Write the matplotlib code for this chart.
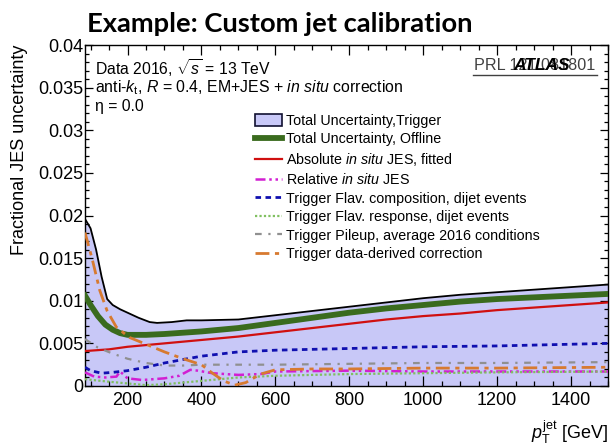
import numpy as np
import matplotlib
matplotlib.use("Agg")
import matplotlib.pyplot as plt
from matplotlib.lines import Line2D
from matplotlib.patches import Patch
from matplotlib.ticker import MultipleLocator, FuncFormatter

plt.rcParams['font.family'] = ['Liberation Sans', 'DejaVu Sans']
plt.rcParams['mathtext.fontset'] = 'custom'
plt.rcParams['mathtext.rm'] = 'Liberation Sans'
plt.rcParams['mathtext.it'] = 'Liberation Sans:italic'
plt.rcParams['mathtext.bf'] = 'Liberation Sans:bold'

# ---- data ----
total_trig_x = [85, 100, 115, 130, 145, 160, 180, 200, 230, 260, 280, 320, 360, 400, 500, 600, 700, 800, 900, 1000, 1100, 1200, 1300, 1400, 1500]
total_trig_y = [0.0196, 0.0185, 0.0160, 0.0128, 0.0102, 0.0095, 0.0090, 0.0086, 0.0080, 0.0075, 0.0074, 0.0075, 0.0077, 0.0077, 0.0078, 0.0083, 0.0088, 0.0093, 0.0098, 0.0103, 0.0107, 0.0110, 0.0113, 0.0116, 0.0119]

offline_x = [85, 100, 120, 140, 160, 180, 200, 250, 300, 400, 500, 600, 700, 800, 900, 1000, 1100, 1200, 1300, 1400, 1500]
offline_y = [0.0106, 0.0095, 0.0082, 0.0072, 0.0066, 0.0062, 0.0060, 0.0060, 0.0061, 0.0064, 0.0068, 0.0074, 0.0080, 0.0086, 0.0091, 0.0095, 0.0099, 0.0102, 0.0104, 0.0106, 0.0108]

abs_x = [85, 150, 200, 300, 400, 500, 600, 700, 800, 900, 1000, 1100, 1200, 1300, 1400, 1500]
abs_y = [0.0041, 0.0043, 0.0046, 0.0050, 0.0054, 0.0058, 0.0063, 0.0068, 0.0073, 0.0078, 0.0082, 0.0085, 0.0089, 0.0092, 0.0095, 0.0098]

rel_x = [85, 110, 140, 170, 180, 200, 240, 300, 340, 370, 390, 430, 500, 560, 600, 800, 1000, 1500]
rel_y = [0.0016, 0.0011, 0.0010, 0.0011, 0.0017, 0.0009, 0.0007, 0.0009, 0.0012, 0.0019, 0.0018, 0.0015, 0.0013, 0.0014, 0.0017, 0.0018, 0.0017, 0.0017]

flavcomp_x = [85, 100, 130, 160, 200, 250, 300, 350, 400, 500, 600, 700, 800, 900, 1000, 1200, 1400, 1500]
flavcomp_y = [0.0022, 0.0018, 0.0015, 0.0016, 0.0018, 0.0022, 0.0027, 0.0031, 0.0035, 0.0040, 0.0042, 0.0043, 0.0044, 0.0045, 0.0046, 0.0047, 0.0049, 0.0050]

flavresp_x = [85, 150, 200, 250, 300, 400, 500, 600, 800, 1000, 1200, 1500]
flavresp_y = [0.0008, 0.0005, 0.0003, 0.0001, 0.0002, 0.0006, 0.0010, 0.0012, 0.0014, 0.0015, 0.0016, 0.0017]

pileup_x = [85, 120, 160, 200, 250, 300, 350, 400, 500, 600, 800, 1000, 1200, 1500]
pileup_y = [0.0055, 0.0045, 0.0038, 0.0032, 0.0027, 0.0024, 0.0024, 0.0025, 0.0025, 0.0025, 0.0026, 0.0027, 0.0027, 0.0028]

datader_x = [85, 105, 125, 145, 170, 205, 250, 300, 350, 400, 430, 460, 490, 520, 560, 600, 700, 800, 1000, 1200, 1500]
datader_y = [0.0180, 0.0148, 0.0112, 0.0088, 0.0069, 0.0057, 0.0049, 0.0040, 0.0032, 0.0025, 0.0015, 0.0006, 0.0001, 0.0004, 0.0014, 0.0019, 0.0020, 0.0020, 0.0021, 0.0021, 0.0022]

legend_labels = [
    "Total Uncertainty,Trigger",
    "Total Uncertainty, Offline",
    "Absolute $\\mathit{in\\ situ}$ JES, fitted",
    "Relative $\\mathit{in\\ situ}$ JES",
    "Trigger Flav. composition, dijet events",
    "Trigger Flav. response, dijet events",
    "Trigger Pileup, average 2016 conditions",
    "Trigger data-derived correction",
]

W, H = 610, 447
fig = plt.figure(figsize=(W / 100, H / 100), dpi=100)
ax = fig.add_axes([85 / W, 1 - 386 / H, (608 - 85) / W, (386 - 45) / H])

band_col = '#c8c8f7'
ls_rel = (0, (4, 1.5, 1, 1.5, 1, 1.5))
ls_comp = (0, (2, 1.6))
ls_resp = (0, (1, 1))
ls_pu = (0, (3, 3, 1, 3))
ls_dd = (0, (5, 2, 1.5, 2))

ax.fill_between(total_trig_x, 0, total_trig_y, color=band_col, lw=0, zorder=1)
ax.plot(total_trig_x, total_trig_y, color='black', lw=1.3, zorder=3)
ax.plot(offline_x, offline_y, color='#3a6b1e', lw=4.2, zorder=4)
ax.plot(abs_x, abs_y, color='#d01010', lw=1.6, zorder=5)
ax.plot(rel_x, rel_y, color='#d21fd2', lw=1.8, ls=ls_rel, zorder=5)
ax.plot(flavcomp_x, flavcomp_y, color='#1010b0', lw=2.0, ls=ls_comp, zorder=5)
ax.plot(flavresp_x, flavresp_y, color='#80c060', lw=1.6, ls=ls_resp, zorder=5)
ax.plot(pileup_x, pileup_y, color='#909090', lw=1.6, ls=ls_pu, zorder=5)
ax.plot(datader_x, datader_y, color='#d77a30', lw=2.0, ls=ls_dd, zorder=5)

ax.set_xlim(85, 1500)
ax.set_ylim(0, 0.04)
ax.xaxis.set_major_locator(MultipleLocator(200))
ax.xaxis.set_minor_locator(MultipleLocator(50))
ax.yaxis.set_major_locator(MultipleLocator(0.005))
ax.yaxis.set_minor_locator(MultipleLocator(0.001))
ax.yaxis.set_major_formatter(FuncFormatter(lambda v, p: ('%g' % round(v, 4))))
ax.tick_params(which='both', direction='in', top=True, right=True, labelsize=13, width=0.9)
ax.tick_params(axis='y', which='major', length=6, pad=1)
ax.tick_params(axis='y', which='minor', length=3.2)
ax.tick_params(axis='x', which='major', length=7, pad=4)
ax.tick_params(axis='x', which='minor', length=3.5)
for s in ax.spines.values():
    s.set_linewidth(1.0)

handles = [
    Patch(facecolor=band_col, edgecolor='#101030', linewidth=1.2),
    Line2D([], [], color='#3a6b1e', lw=4.2),
    Line2D([], [], color='#d01010', lw=1.6),
    Line2D([], [], color='#d21fd2', lw=1.8, ls=ls_rel),
    Line2D([], [], color='#1010b0', lw=2.0, ls=ls_comp),
    Line2D([], [], color='#80c060', lw=1.6, ls=ls_resp),
    Line2D([], [], color='#909090', lw=1.6, ls=ls_pu),
    Line2D([], [], color='#d77a30', lw=2.0, ls=ls_dd),
]
leg = ax.legend(handles, legend_labels, loc='upper left', frameon=False,
                bbox_to_anchor=((255 - 85) / (608 - 85), (386 - 114) / (386 - 45)),
                fontsize=10.3, handlelength=1.9, handleheight=0.85, handletextpad=0.3,
                labelspacing=0.31, borderpad=0, borderaxespad=0)

# annotations
def fx(px):
    return px / W

def fy(py):
    return 1 - py / H

fig.text(fx(87), fy(32), "Example: Custom jet calibration", fontsize=19.7,
         fontweight='bold', family=['Lato', 'DejaVu Sans'], va='baseline', ha='left')
fig.text(fx(95), fy(68), "Data 2016, $\\sqrt{s}$ = 13 TeV", fontsize=11.3, va='center')
fig.text(fx(95), fy(88), "anti-$k_{\\mathrm{t}}$, $R$ = 0.4, EM+JES + $\\mathit{in\\ situ}$ correction",
         fontsize=11.4, va='center')
fig.text(fx(95), fy(106), "\u03b7 = 0.0", fontsize=11.3, va='center')

fig.text(fx(595), fy(65), "PRL 121 081801", fontsize=11.6, va='center', ha='right', color='#404040')
fig.add_artist(Line2D([fx(473), fx(597)], [fy(75), fy(75)], color='#404040', lw=1.0))
fig.text(fx(542), fy(65), "ATLAS", fontsize=12.5, va='center', ha='center',
         fontweight='bold', fontstyle='italic')

fig.text(fx(20), fy(45), "Fractional JES uncertainty", fontsize=13, rotation=90,
         va='top', ha='center')
fig.text(fx(608), fy(432), "$p_{\\mathrm{T}}^{\\mathrm{jet}}$ [GeV]", fontsize=13,
         va='center', ha='right')

fig.savefig("out.png", dpi=100)
